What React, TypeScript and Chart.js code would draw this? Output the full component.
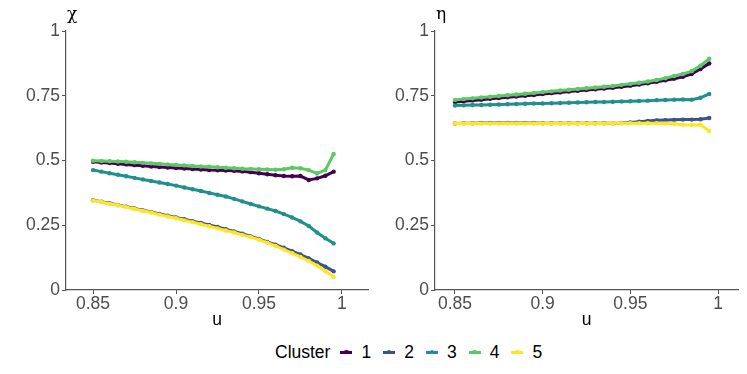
import React, { useEffect, useRef } from "react";
import { Chart, registerables } from "chart.js";
Chart.register(...registerables);

const u = [0.85, 0.855, 0.86, 0.865, 0.87, 0.875, 0.88, 0.885, 0.89, 0.895, 0.9, 0.905, 0.91, 0.915, 0.92, 0.925, 0.93, 0.935, 0.94, 0.945, 0.95, 0.955, 0.96, 0.965, 0.97, 0.975, 0.98, 0.985, 0.99, 0.995];
const clusters = ["1", "2", "3", "4", "5"];
const colors = ["#440154", "#3B528B", "#21908C", "#5DC863", "#FDE725"];
const xTicks = [0.85, 0.9, 0.95, 1];
const yTicks = [0, 0.25, 0.5, 0.75, 1];

// chi panel
const chi1 = [0.495, 0.492, 0.490, 0.487, 0.485, 0.482, 0.480, 0.477, 0.475, 0.473, 0.471, 0.469, 0.467, 0.465, 0.463, 0.462, 0.461, 0.460, 0.458, 0.455, 0.451, 0.447, 0.443, 0.440, 0.439, 0.440, 0.425, 0.431, 0.441, 0.457];
const chi2 = [0.347, 0.341, 0.335, 0.328, 0.322, 0.315, 0.308, 0.301, 0.294, 0.287, 0.280, 0.273, 0.266, 0.259, 0.251, 0.243, 0.235, 0.226, 0.217, 0.207, 0.197, 0.186, 0.175, 0.163, 0.150, 0.137, 0.122, 0.106, 0.090, 0.072];
const chi3 = [0.463, 0.457, 0.451, 0.445, 0.439, 0.433, 0.427, 0.421, 0.415, 0.409, 0.403, 0.396, 0.389, 0.382, 0.375, 0.368, 0.361, 0.352, 0.342, 0.332, 0.323, 0.314, 0.305, 0.293, 0.280, 0.265, 0.247, 0.222, 0.200, 0.180];
const chi4 = [0.499, 0.498, 0.497, 0.496, 0.495, 0.493, 0.491, 0.489, 0.487, 0.485, 0.483, 0.481, 0.479, 0.477, 0.476, 0.474, 0.472, 0.470, 0.468, 0.467, 0.466, 0.465, 0.464, 0.466, 0.472, 0.470, 0.463, 0.450, 0.463, 0.525];
const chi5 = [0.346, 0.340, 0.333, 0.327, 0.320, 0.313, 0.306, 0.299, 0.291, 0.284, 0.277, 0.269, 0.262, 0.254, 0.246, 0.238, 0.230, 0.222, 0.213, 0.204, 0.194, 0.183, 0.170, 0.156, 0.142, 0.128, 0.112, 0.094, 0.073, 0.050];

// eta panel
const eta1 = [0.726, 0.729, 0.732, 0.735, 0.738, 0.741, 0.744, 0.747, 0.750, 0.753, 0.757, 0.760, 0.763, 0.766, 0.769, 0.772, 0.775, 0.778, 0.781, 0.785, 0.789, 0.793, 0.798, 0.804, 0.810, 0.816, 0.823, 0.834, 0.853, 0.875];
const eta2 = [0.643, 0.644, 0.644, 0.645, 0.645, 0.645, 0.645, 0.645, 0.645, 0.645, 0.644, 0.644, 0.644, 0.644, 0.644, 0.644, 0.644, 0.644, 0.644, 0.645, 0.647, 0.650, 0.653, 0.655, 0.656, 0.657, 0.658, 0.658, 0.659, 0.664];
const eta3 = [0.712, 0.713, 0.714, 0.714, 0.715, 0.716, 0.717, 0.718, 0.719, 0.720, 0.720, 0.721, 0.722, 0.723, 0.724, 0.725, 0.726, 0.726, 0.727, 0.728, 0.729, 0.730, 0.731, 0.733, 0.734, 0.735, 0.736, 0.735, 0.742, 0.757];
const eta4 = [0.734, 0.737, 0.740, 0.743, 0.746, 0.749, 0.752, 0.755, 0.758, 0.761, 0.764, 0.767, 0.770, 0.773, 0.776, 0.779, 0.782, 0.785, 0.788, 0.792, 0.796, 0.800, 0.805, 0.811, 0.818, 0.826, 0.834, 0.845, 0.866, 0.893];
const eta5 = [0.643, 0.643, 0.643, 0.643, 0.643, 0.643, 0.643, 0.643, 0.643, 0.643, 0.643, 0.643, 0.643, 0.643, 0.643, 0.643, 0.643, 0.643, 0.644, 0.644, 0.644, 0.644, 0.644, 0.644, 0.643, 0.642, 0.638, 0.637, 0.638, 0.614];

const chiSeries = [chi1, chi2, chi3, chi4, chi5];
const etaSeries = [eta1, eta2, eta3, eta4, eta5];

const FONT = "'Liberation Sans', Arial, Helvetica, sans-serif";
const AXIS = "#555555";
const TICKTXT = "#4d4d4d";
const FS = 17.5;

function makeConfig(series: number[][], xmin: number, xmax: number, yW: number, padR: number): any {
  return {
    type: "line",
    data: {
      datasets: series.map((s, i) => ({
        label: clusters[i],
        data: u.map((x, j) => ({ x, y: s[j] })),
        order: series.length - i,
        borderColor: colors[i],
        backgroundColor: colors[i],
        borderWidth: 3,
        pointRadius: 2.2,
        pointBorderWidth: 0,
        pointBackgroundColor: colors[i],
        tension: 0,
      })),
    },
    options: {
      animation: false,
      responsive: false,
      maintainAspectRatio: false,
      layout: { padding: { top: 31, right: padR, left: 0, bottom: 0 } },
      plugins: { legend: { display: false }, tooltip: { enabled: false } },
      scales: {
        x: {
          type: "linear",
          min: xmin,
          max: xmax,
          afterBuildTicks: (ax: any) => { ax.ticks = xTicks.map((v) => ({ value: v })); },
          afterFit: (ax: any) => { ax.height = 50; },
          ticks: {
            autoSkip: false,
            maxRotation: 0,
            padding: 0,
            color: TICKTXT,
            font: { family: FONT, size: FS },
            callback: (v: any) => String(v),
          },
          grid: { drawOnChartArea: false, drawTicks: true, tickLength: 4, color: AXIS, lineWidth: 1 },
          border: { display: true, color: AXIS, width: 1.2 },
        },
        y: {
          type: "linear",
          min: 0,
          max: 1,
          afterBuildTicks: (ax: any) => { ax.ticks = yTicks.map((v) => ({ value: v })); },
          afterFit: (ax: any) => { ax.width = yW; },
          ticks: {
            padding: 2,
            color: TICKTXT,
            font: { family: FONT, size: FS },
            callback: (v: any) => String(v),
          },
          grid: { drawOnChartArea: false, drawTicks: true, tickLength: 4, color: AXIS, lineWidth: 1 },
          border: { display: true, color: AXIS, width: 1.2 },
        },
      },
    },
  };
}

function Panel(props: { series: number[][]; xmin: number; xmax: number; yW: number; padR: number; width: number; left: number; title: string }) {
  const ref = useRef<HTMLCanvasElement>(null);
  useEffect(() => {
    const c = new Chart(ref.current as HTMLCanvasElement, makeConfig(props.series, props.xmin, props.xmax, props.yW, props.padR));
    return () => c.destroy();
  }, []);
  return (
    <div style={{ position: "absolute", left: props.left, top: 0, width: props.width, height: 340 }}>
      <canvas ref={ref} width={props.width} height={340} style={{ width: props.width, height: 340, display: "block" }} />
      <div style={{ position: "absolute", left: props.yW + 1, top: 3, fontFamily: "'DejaVu Serif', serif", fontSize: 17, color: "#000" }}>{props.title}</div>
      <div style={{ position: "absolute", left: props.yW, width: props.width - props.yW - props.padR, top: 309, textAlign: "center", fontFamily: FONT, fontSize: FS, color: "#000" }}>u</div>
    </div>
  );
}

export default function App() {
  useEffect(() => {
    document.body.style.margin = "0";
  }, []);
  return (
    <div style={{ position: "relative", width: 747, height: 374, background: "#fff", overflow: "hidden" }}>
      <Panel series={chiSeries} xmin={0.8337} xmax={1.0157} yW={66} padR={7} width={375} left={0} title="χ" />
      <Panel series={etaSeries} xmin={0.8386} xmax={1.0114} yW={60} padR={9} width={372} left={375} title="η" />
      <div style={{ position: "absolute", left: 275, top: 341, height: 22, display: "flex", alignItems: "center", fontFamily: FONT, fontSize: FS, color: "#000" }}>
        <span style={{ marginRight: 9 }}>Cluster</span>
        {clusters.map((c, i) => (
          <span key={c} style={{ display: "flex", alignItems: "center", marginRight: 11 }}>
            <span style={{ position: "relative", width: 14, height: 10, marginRight: 8 }}>
              <span style={{ position: "absolute", left: 1, top: 3.5, width: 12, height: 3, background: colors[i] }} />
              <span style={{ position: "absolute", left: 4.8, top: 2.8, width: 4.5, height: 4.5, borderRadius: "50%", background: colors[i] }} />
            </span>
            <span>{c}</span>
          </span>
        ))}
      </div>
    </div>
  );
}
